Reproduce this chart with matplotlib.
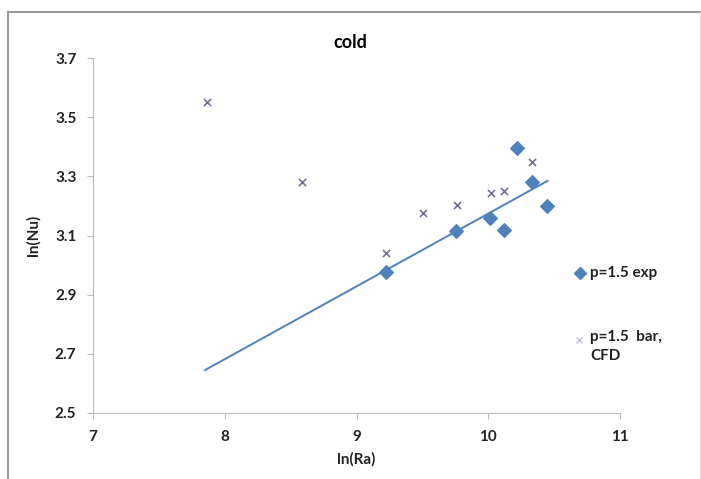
import numpy as np
import matplotlib.pyplot as plt
from matplotlib.lines import Line2D

# ln(Ra), ln(Nu) for the cold side
ra_exp = [9.224, 9.755, 10.013, 10.12, 10.216, 10.335, 10.449]
nu_exp = [2.978, 3.115, 3.158, 3.118, 3.395, 3.282, 3.200]

ra_cfd = [7.863, 8.586, 9.224, 9.507, 9.76, 10.018, 10.12, 10.335]
nu_cfd = [3.552, 3.282, 3.040, 3.175, 3.202, 3.243, 3.251, 3.349]

x_ticks = [7, 8, 9, 10, 11]
y_ticks = [2.5, 2.7, 2.9, 3.1, 3.3, 3.5, 3.7]

labels = ['p=1.5 exp', 'p=1.5  bar,\nCFD']

trend_start = 7.85  # backward forecast of the linear fit

plt.rcParams['font.family'] = ['Lato', 'DejaVu Sans']

fig = plt.figure(figsize=(7.01, 4.79), dpi=100)
ax = fig.add_axes([0.1327, 0.1378, 0.7518, 0.7411])

blue = '#4f81bd'
cross = '#7a6c98'
txt = '#222222'

ax.scatter(ra_exp, nu_exp, marker='D', s=48, color=blue, zorder=3)
ax.scatter(ra_cfd, nu_cfd, marker='x', s=26, color=cross, linewidths=1.2, zorder=3)

slope, icpt = np.polyfit(ra_exp, nu_exp, 1)
xt = np.array([trend_start, max(ra_exp)])
ax.plot(xt, slope * xt + icpt, color=blue, lw=1.4, zorder=2)

ax.set_xlim(7, 11)
ax.set_ylim(2.5, 3.7)
ax.set_xticks(x_ticks)
ax.set_yticks(y_ticks)
ax.set_xticklabels([str(v) for v in x_ticks], fontweight='bold', fontsize=11, color=txt)
ax.set_yticklabels([f'{v:.1f}' for v in y_ticks], fontweight='bold', fontsize=11, color=txt)
for s in ['top', 'right']:
    ax.spines[s].set_visible(False)
for s in ['left', 'bottom']:
    ax.spines[s].set_color('#bdbdbd')
ax.tick_params(length=4, color='#bdbdbd', pad=8)

ax.set_xlabel('ln(Ra)', fontweight='bold', fontsize=11, color=txt, labelpad=6)
ax.set_ylabel('ln(Nu)', fontweight='bold', fontsize=11, color=txt, labelpad=10)
fig.text(0.5, 0.912, 'cold', ha='center', va='center', fontweight='bold', fontsize=13)

# legend, laid out by hand so the cross sits on the first line of its label
ax.plot([0.924], [0.394], marker='D', ls='none', color=blue, markersize=6,
        transform=ax.transAxes, clip_on=False)
ax.text(0.943, 0.394, labels[0], transform=ax.transAxes, va='center',
        fontweight='bold', fontsize=11, color=txt)
ax.plot([0.922], [0.206], marker='x', ls='none', color='#c8c0d6', markersize=5,
        transform=ax.transAxes, clip_on=False)
ax.text(0.943, 0.233, labels[1], transform=ax.transAxes, va='top',
        fontweight='bold', fontsize=11, color=txt, linespacing=1.45)

# thin frame round the chart area
fig.add_artist(Line2D([8 / 701, 8 / 701], [0, 1 - 12 / 479], transform=fig.transFigure, color='#9a9a9a', lw=1.5))
fig.add_artist(Line2D([8 / 701, 700 / 701], [1 - 12 / 479, 1 - 12 / 479], transform=fig.transFigure, color='#9a9a9a', lw=1.5))
fig.add_artist(Line2D([700 / 701, 700 / 701], [0, 1 - 12 / 479], transform=fig.transFigure, color='#dddddd', lw=1))

fig.savefig('out.png', dpi=100)
